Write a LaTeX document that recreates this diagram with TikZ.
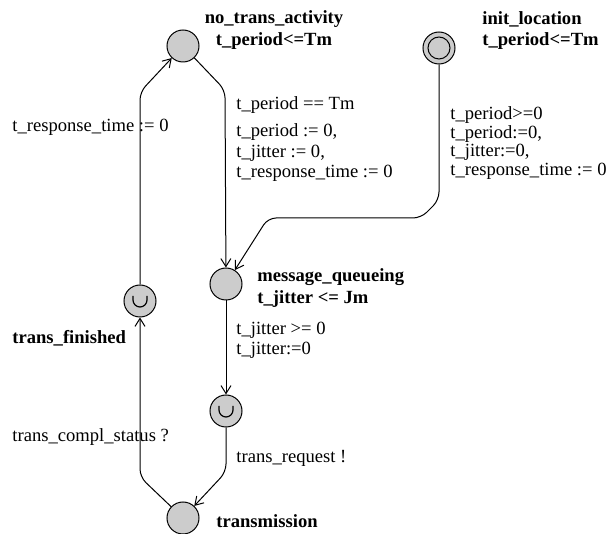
\documentclass[tikz,border=0pt]{standalone}
\usepackage{fontspec}
\setmainfont{Liberation Serif}
\usetikzlibrary{arrows.meta}
\begin{document}
\begin{tikzpicture}[x=0.5pt,y=-0.5pt,
  loc/.style={circle,draw,fill=black!20,minimum size=16pt,inner sep=0pt,line width=0.5pt},
  edge/.style={draw,line width=0.5pt,rounded corners=4pt,-{Straight Barb[length=4pt,width=5pt]}},
  lab/.style={anchor=west,inner sep=0pt,font=\fontsize{9.3}{10}\selectfont},
  locname/.style={inner sep=0pt,font=\fontsize{9.3}{10}\selectfont\bfseries}]
\useasboundingbox (0,0) rectangle (607,534);

% locations
\node[loc] (nta) at (183,46) {};
\node[loc] (init) at (439,48) {};
\draw[line width=0.5pt] (init.center) circle[radius=5.5pt];
\node[loc] (mq) at (226,284) {};
\node[loc] (tf) at (140,301) {};
\node[loc] (urg) at (226,411) {};
\node[loc] (tr) at (183,518) {};

% urgent marks
\foreach \u in {tf,urg}
  \draw[line width=0.6pt] (\u.center) ++(-7,-5) -- ++(0,4) arc[start angle=180,end angle=0,radius=7] -- ++(0,-4);

% location names and invariants
\node[locname] (ntaname) at (274,19) {no\_trans\_activity};
\node[locname] (ntainv) at (274,41) {t\_period<=Tm};
\node[locname,anchor=west] (initname) at (482,19) {init\_location};
\node[locname,anchor=west] (initinv) at (482,41) {t\_period<=Tm};
\node[locname,anchor=west] (mqname) at (257,277) {message\_queueing};
\node[locname,anchor=west] (mqinv) at (257,299) {t\_jitter <= Jm};
\node[locname,anchor=west] (tfname) at (12,338) {trans\_finished};
\node[locname,anchor=west] (trname) at (216,521) {transmission};

% transitions
\draw[edge] (nta) -- (225,90) -- (mq);
\draw[edge] (init) -- (439,200) -- (421,218) -- (268,218) -- (mq);
\draw[edge] (mq) -- (urg);
\draw[edge] (urg) -- (226,472) -- (tr);
\draw[edge] (tr) -- (140,477) -- (tf);
\draw[edge] (tf) -- (140,92) -- (nta);

% guards, syncs and updates
\node[lab] (g1) at (236,105) {t\_period == Tm};
\node[lab] (a1a) at (236,132) {t\_period := 0,};
\node[lab] (a1b) at (236,153) {t\_jitter := 0,};
\node[lab] (a1c) at (236,173) {t\_response\_time := 0};
\node[lab] (g2) at (450,115) {t\_period>=0};
\node[lab] (a2a) at (450,134) {t\_period:=0,};
\node[lab] (a2b) at (450,152) {t\_jitter:=0,};
\node[lab] (a2c) at (450,171) {t\_response\_time := 0};
\node[lab] (g3) at (236,330) {t\_jitter >= 0};
\node[lab] (a3) at (236,350) {t\_jitter:=0};
\node[lab] (s4) at (236,458) {trans\_request !};
\node[lab] (s5) at (12,437) {trans\_compl\_status ?};
\node[lab] (a6) at (12,127) {t\_response\_time := 0};
\end{tikzpicture}
\end{document}
